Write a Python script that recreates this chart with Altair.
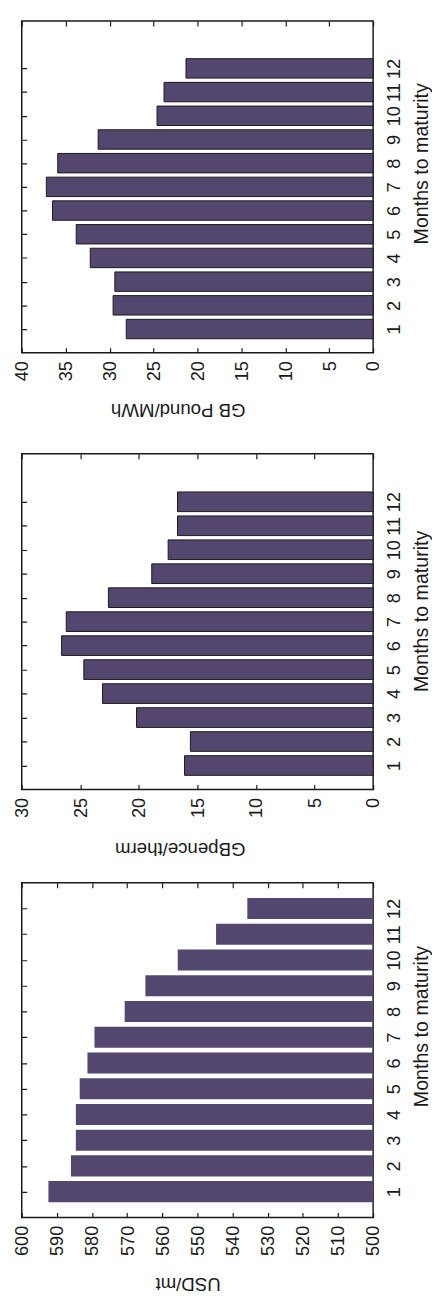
import altair as alt
import pandas as pd

# ---- data ----
months = list(range(1, 13))
gb_pound_mwh = [28.1, 29.6, 29.4, 32.2, 33.8, 36.5, 37.2, 35.9, 31.3, 24.6, 23.8, 21.3]
gb_pence_therm = [16.1, 15.6, 20.2, 23.1, 24.7, 26.6, 26.2, 22.6, 18.9, 17.5, 16.7, 16.7]
usd_mt = [592.4, 586.0, 584.6, 584.6, 583.5, 581.3, 579.3, 570.7, 564.8, 555.6, 544.7, 535.8]

pound_ticks = [0, 5, 10, 15, 20, 25, 30, 35, 40]
pence_ticks = [0, 5, 10, 15, 20, 25, 30]
usd_ticks = [500, 510, 520, 530, 540, 550, 560, 570, 580, 590, 600]
month_ticks = months

FONT = "Liberation Sans"
BAR = "#53476f"
INK = "#1a1a1a"
W = 358


def panel(values, base, xdomain, xticks, xtitle, ydomain, height, outline,
          xtitle_x, xtitle_y, ytitle_y):
    df = pd.DataFrame({"month": months, "value": values})
    mark_kw = dict(color=BAR)
    if outline:
        mark_kw.update(stroke=INK, strokeWidth=1)
    return (
        alt.Chart(df)
        .transform_calculate(
            lo="datum.month - 0.41", hi="datum.month + 0.41", base=str(base)
        )
        .mark_bar(**mark_kw)
        .encode(
            x=alt.X(
                "value:Q",
                scale=alt.Scale(domain=xdomain, reverse=True, nice=False, zero=False),
                axis=alt.Axis(
                    values=xticks, title=xtitle, format="d",
                    labelAngle=270, labelAlign="right", labelBaseline="middle",
                    labelFlush=False, labelOverlap=False,
                    labelPadding=8, ticks=False, tickSize=0, domain=False,
                    grid=True, gridDash=[5, height - 10, 5, 3000],
                    gridColor=INK, gridWidth=1.2, gridOpacity=1,
                    titleAngle=180, titleX=xtitle_x, titleY=xtitle_y,
                    titleAlign="center", titleBaseline="middle",
                ),
            ),
            x2="base:Q",
            y=alt.Y(
                "lo:Q",
                scale=alt.Scale(domain=ydomain, nice=False, zero=False),
                axis=alt.Axis(
                    orient="right", values=month_ticks, title="Months to maturity",
                    format="d", labelFlush=False, labelOverlap=False,
                    labelAngle=270, labelAlign="center", labelBaseline="top",
                    labelPadding=12, ticks=False, tickSize=0, domain=False,
                    grid=True, gridDash=[5, W - 10, 5, 3000],
                    gridColor=INK, gridWidth=1.2, gridOpacity=1,
                    titleAngle=270, titleX=49, titleY=ytitle_y, titleFontSize=20,
                    titleAlign="center", titleBaseline="middle",
                ),
            ),
            y2="hi:Q",
        )
        .properties(width=W, height=height)
    )


p1 = panel(gb_pound_mwh, 0, [0, 40], pound_ticks, "GB Pound/MWh", [0, 14], 338, True,
           159, 58, 145)
p2 = panel(gb_pence_therm, 0, [0, 30], pence_ticks, "GBpence/therm", [0, 14], 342, True,
           161, 60, 160)
p3 = panel(usd_mt, 500, [500, 600], usd_ticks, "USD/mt", [0, 13], 341, False,
           169, 67, 146)

chart = (
    alt.vconcat(
        p1,
        alt.vconcat(p2, p3, spacing=95, bounds="flush"),
        spacing=103,
        bounds="flush",
    )
    .properties(padding={"left": 4, "top": 0, "right": 0, "bottom": 0})
    .configure_view(stroke=INK, strokeWidth=1.5)
    .configure_axis(
        labelFont=FONT, labelFontSize=18.5, labelColor=INK,
        titleFont=FONT, titleFontSize=19, titleFontWeight="normal", titleColor=INK,
    )
)

chart.save("out.html", embed_options={"renderer": "svg", "actions": False})
